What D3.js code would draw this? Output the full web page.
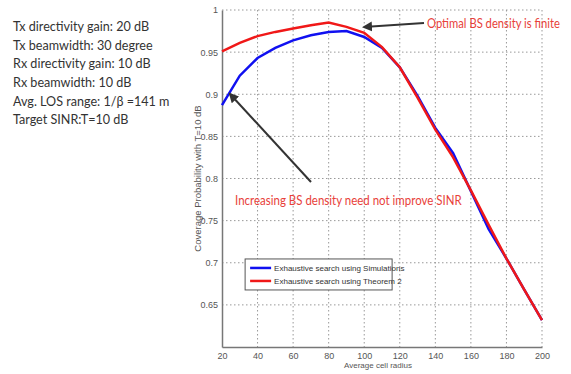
<!DOCTYPE html>
<html>
<head>
<meta charset="utf-8">
<script src="https://cdn.jsdelivr.net/npm/d3@7"></script>
<style>
  body { margin: 0; background: #fff; }
  svg { display: block; }
</style>
</head>
<body>
<div id="chart"></div>
<script>
(function(){
    "use strict";

    // data
    var radius = [20, 30, 40, 50, 60, 70, 80, 90, 100, 110, 120, 130, 140, 150, 160, 170, 180, 190, 200];
    var simulated = [0.887, 0.922, 0.943, 0.955, 0.964, 0.970, 0.974, 0.975, 0.968, 0.955, 0.932, 0.898, 0.860, 0.830, 0.785, 0.740, 0.705, 0.668, 0.632];
    var theorem = [0.951, 0.961, 0.969, 0.974, 0.978, 0.982, 0.985, 0.980, 0.973, 0.956, 0.932, 0.896, 0.858, 0.825, 0.786, 0.745, 0.705, 0.668, 0.632];
    var xTicks = [20, 40, 60, 80, 100, 120, 140, 160, 180, 200];
    var yTicks = [0.65, 0.7, 0.75, 0.8, 0.85, 0.9, 0.95, 1];
    var seriesNames = ["Exhaustive search using Simulations", "Exhaustive search using Theorem 2"];
    var paramLines = ["Tx directivity gain: 20 dB", "Tx beamwidth: 30 degree", "Rx directivity gain: 10 dB",
        "Rx beamwidth: 10 dB", "Avg. LOS range: 1/\u03B2 =141 m", "Target SINR:T=10 dB"];

    var width = 571, height = 374;
    var margin = {top: 10, right: 29, bottom: 27, left: 222};
    var w = width - margin.left - margin.right,
        h = height - margin.top - margin.bottom;
    var narrow = "'Liberation Sans Narrow', Arial, sans-serif";

    var svg = d3.select("#chart").append("svg")
        .attr("width", width)
        .attr("height", height);

    var x = d3.scaleLinear().domain([20, 200]).range([0, w]);
    var y = d3.scaleLinear().domain([0.6, 1]).range([h, 0]);

    var g = svg.append("g")
        .attr("transform", "translate(" + margin.left + "," + margin.top + ")");

    // grid
    g.append("g").selectAll("line").data(xTicks.slice(1)).enter().append("line")
        .attr("x1", function(d) { return x(d); }).attr("x2", function(d) { return x(d); })
        .attr("y1", 0).attr("y2", h)
        .attr("stroke", "#999").attr("stroke-width", 1).attr("stroke-dasharray", "1.5,2.5");
    g.append("g").selectAll("line").data(yTicks).enter().append("line")
        .attr("x1", 0).attr("x2", w)
        .attr("y1", function(d) { return y(d); }).attr("y2", function(d) { return y(d); })
        .attr("stroke", "#999").attr("stroke-width", 1).attr("stroke-dasharray", "1.5,2.5");

    // axes
    var xAxis = g.append("g")
        .attr("transform", "translate(0," + h + ")")
        .call(d3.axisBottom(x).tickValues(xTicks).tickSize(0).tickPadding(6));
    var yAxis = g.append("g")
        .call(d3.axisLeft(y).tickValues(yTicks).tickSize(0).tickPadding(4)
            .tickFormat(function(d) { return d === 1 ? "1" : d3.format("")(d); }));
    [xAxis, yAxis].forEach(function(a) {
        a.select(".domain").attr("stroke", "#777").attr("stroke-width", 1.5);
        a.selectAll("text").attr("fill", "#555")
            .style("font-family", narrow).style("font-size", "9px");
    });

    // lines
    var line = d3.line()
        .x(function(d, i) { return x(radius[i]); })
        .y(function(d) { return y(d); });

    g.append("path").datum(simulated)
        .attr("fill", "none").attr("stroke", "#1010f0").attr("stroke-width", 2.5)
        .attr("d", line);
    g.append("path").datum(theorem)
        .attr("fill", "none").attr("stroke", "#f01818").attr("stroke-width", 2.5)
        .attr("d", line);

    // legend
    var legend = g.append("g").attr("transform", "translate(" + x(33) + "," + y(0.7045) + ")");
    legend.append("rect")
        .attr("width", 147).attr("height", 31)
        .attr("fill", "#fff").attr("stroke", "#555").attr("stroke-width", 1);
    [["#1010f0", seriesNames[0]], ["#f01818", seriesNames[1]]].forEach(function(s, i) {
        legend.append("line")
            .attr("x1", 5).attr("x2", 26)
            .attr("y1", 9 + i * 13).attr("y2", 9 + i * 13)
            .attr("stroke", s[0]).attr("stroke-width", 2.5);
        legend.append("text")
            .attr("x", 29).attr("y", 9 + i * 13).attr("dy", "0.35em")
            .attr("fill", "#333")
            .style("font-family", narrow).style("font-size", "8px")
            .text(s[1]);
    });

    // axis labels
    svg.append("text")
        .attr("transform", "translate(201," + (margin.top + h / 2) + ") rotate(-90)")
        .attr("text-anchor", "middle")
        .attr("fill", "#555")
        .style("font-family", narrow).style("font-size", "9.5px")
        .text("Coverage Probability with T=10 dB");
    svg.append("text")
        .attr("x", 378).attr("y", 368)
        .attr("text-anchor", "middle")
        .attr("fill", "#555")
        .style("font-family", narrow).style("font-size", "8px")
        .text("Average cell radius");

    // annotations
    svg.append("defs").append("marker")
        .attr("id", "head").attr("viewBox", "0 0 10 10")
        .attr("refX", 8).attr("refY", 5)
        .attr("markerWidth", 5).attr("markerHeight", 5)
        .attr("orient", "auto")
        .append("path").attr("d", "M0,0 L10,5 L0,10 z").attr("fill", "#333");

    svg.append("line")
        .attr("x1", 424).attr("y1", 23).attr("x2", 364).attr("y2", 27)
        .attr("stroke", "#333").attr("stroke-width", 2).attr("marker-end", "url(#head)");
    svg.append("line")
        .attr("x1", 311).attr("y1", 182).attr("x2", 230).attr("y2", 94)
        .attr("stroke", "#333").attr("stroke-width", 2).attr("marker-end", "url(#head)");

    // red notes, squeezed to the width they take in the original
    function note(text, left, base, span) {
        var t = svg.append("text")
            .attr("fill", "#e8413a")
            .style("font-family", "Lato, sans-serif").style("font-size", "14px")
            .text(text);
        var k = span / t.node().getComputedTextLength();
        t.attr("transform", "translate(" + left + "," + base + ") scale(" + k + ",1)");
    }
    note("Optimal BS density is finite", 427, 28, 133);
    note("Increasing BS density need not improve SINR", 235, 205, 227);

    // parameter list (squeezed a little, the original face is narrower)
    svg.append("g")
        .attr("transform", "translate(13,0) scale(0.9,1)")
        .selectAll("text").data(paramLines).enter().append("text")
        .attr("x", 0)
        .attr("y", function(d, i) { return 31 + i * 18.7; })
        .attr("fill", "#333")
        .style("font-family", "Lato, sans-serif").style("font-size", "14px")
        .text(function(d) { return d; });
})();
</script>
</body>
</html>
